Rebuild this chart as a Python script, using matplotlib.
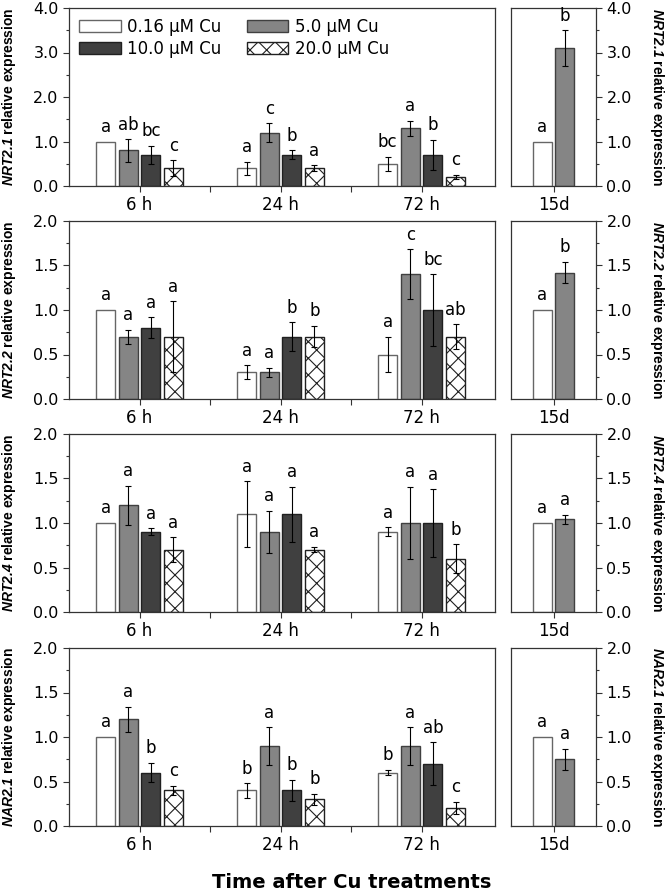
import matplotlib
matplotlib.use('Agg')
import matplotlib.pyplot as plt
import numpy as np
from matplotlib.ticker import MultipleLocator, FormatStrFormatter
from matplotlib.patches import Patch

plt.rcParams['font.family'] = ['DejaVu Sans']
plt.rcParams['mathtext.fontset'] = 'custom'
plt.rcParams['mathtext.rm'] = 'Liberation Sans'
plt.rcParams['mathtext.bf'] = 'Liberation Sans:bold'
plt.rcParams['mathtext.bfit'] = 'Liberation Sans:italic:bold'
plt.rcParams['hatch.linewidth'] = 0.8

# Data
times = ['6 h', '24 h', '72 h']
conc_labels = ['0.16 \u03bcM Cu', '5.0 \u03bcM Cu', '10.0 \u03bcM Cu', '20.0 \u03bcM Cu']
genes = ['NRT2.1', 'NRT2.2', 'NRT2.4', 'NAR2.1']
ymax = [4.0, 2.0, 2.0, 2.0]

# mean values per gene: rows = concentration, cols = time (6 h, 24 h, 72 h)
nrt21_mean = [[1.0, 0.4, 0.5], [0.8, 1.2, 1.3], [0.7, 0.7, 0.7], [0.4, 0.4, 0.2]]
nrt21_err = [[0.0, 0.15, 0.16], [0.25, 0.21, 0.17], [0.21, 0.10, 0.34], [0.18, 0.07, 0.05]]
nrt21_let = [['a', 'a', 'bc'], ['ab', 'c', 'a'], ['bc', 'b', 'b'], ['c', 'a', 'c']]

nrt22_mean = [[1.0, 0.3, 0.5], [0.7, 0.3, 1.4], [0.8, 0.7, 1.0], [0.7, 0.7, 0.7]]
nrt22_err = [[0.0, 0.08, 0.2], [0.08, 0.05, 0.28], [0.12, 0.16, 0.4], [0.4, 0.12, 0.14]]
nrt22_let = [['a', 'a', 'a'], ['a', 'a', 'c'], ['a', 'b', 'bc'], ['a', 'b', 'ab']]

nrt24_mean = [[1.0, 1.1, 0.9], [1.2, 0.9, 1.0], [0.9, 1.1, 1.0], [0.7, 0.7, 0.6]]
nrt24_err = [[0.0, 0.37, 0.05], [0.22, 0.24, 0.41], [0.04, 0.31, 0.38], [0.14, 0.03, 0.16]]
nrt24_let = [['a', 'a', 'a'], ['a', 'a', 'a'], ['a', 'a', 'a'], ['a', 'a', 'b']]

nar21_mean = [[1.0, 0.4, 0.6], [1.2, 0.9, 0.9], [0.6, 0.4, 0.7], [0.4, 0.3, 0.2]]
nar21_err = [[0.0, 0.08, 0.03], [0.14, 0.21, 0.21], [0.11, 0.12, 0.24], [0.05, 0.06, 0.07]]
nar21_let = [['a', 'b', 'b'], ['a', 'a', 'a'], ['b', 'b', 'ab'], ['c', 'b', 'c']]

# 15 d values (0.16 and 5.0 uM Cu)
d15_mean = [[1.0, 3.1], [1.0, 1.42], [1.0, 1.04], [1.0, 0.75]]
d15_err = [[0.0, 0.4], [0.0, 0.12], [0.0, 0.05], [0.0, 0.12]]
d15_let = [['a', 'b'], ['a', 'b'], ['a', 'a'], ['a', 'a']]

means = [nrt21_mean, nrt22_mean, nrt24_mean, nar21_mean]
errs = [nrt21_err, nrt22_err, nrt24_err, nar21_err]
lets = [nrt21_let, nrt22_let, nrt24_let, nar21_let]

# styles
face = ['white', '#858585', '#404040', 'white']
edge = ['#666666', '#404040', '#202020', '#202020']
hatch = [None, None, None, 'xx']
axcol = '#333333'

W, H = 666, 893
fig = plt.figure(figsize=(W / 100, H / 100), dpi=100)

tops = [8, 221, 434, 648]
ph = 178
main_l, main_w = 69, 426
side_l, side_w = 511, 85

x = np.arange(len(times))
step = 0.16
width = 0.135


def style_axis(ax, major):
    ax.yaxis.set_major_locator(MultipleLocator(major))
    ax.yaxis.set_minor_locator(MultipleLocator(major / 2))
    ax.yaxis.set_major_formatter(FormatStrFormatter('%.1f'))
    for s in ax.spines.values():
        s.set_color(axcol)
        s.set_linewidth(0.9)
    ax.tick_params(which='both', direction='out', colors=axcol, labelcolor='black',
                   labelsize=11.5, width=0.8)
    ax.tick_params(which='major', length=4)
    ax.tick_params(which='minor', length=2.5)
    ax.tick_params(axis='x', which='major', pad=3, labelsize=12)


def add_letters(ax, xs, tops_, letters):
    for xi, t, l in zip(xs, tops_, letters):
        ax.annotate(l, (xi, t), xytext=(0, 4), textcoords='offset points',
                    ha='center', va='bottom', fontsize=12)


for g in range(4):
    b = 1 - (tops[g] + ph) / H
    ax = fig.add_axes([main_l / W, b, main_w / W, ph / H])
    ax2 = fig.add_axes([side_l / W, b, side_w / W, ph / H])
    major = 1.0 if ymax[g] > 2 else 0.5

    for c in range(4):
        xs = x + (c - 1.5) * step
        m = np.array(means[g][c])
        e = np.array(errs[g][c])
        ax.bar(xs, m, width, color=face[c], edgecolor=edge[c], hatch=hatch[c],
               linewidth=1.0, zorder=2)
        mask = e > 0
        if mask.any():
            ax.errorbar(xs[mask], m[mask], yerr=e[mask], fmt='none', ecolor='black',
                        elinewidth=0.8, capsize=2, capthick=0.8, zorder=3)
        add_letters(ax, xs, m + e, lets[g][c])

    ax.set_xlim(-0.5, 2.52)
    ax.set_ylim(0, ymax[g])
    ax.set_xticks(x)
    ax.set_xticklabels(times)
    ax.set_xticks([0.5, 1.5], minor=True)
    style_axis(ax, major)
    ax.tick_params(axis='x', which='minor', length=4)

    # 15 d panel
    xs2 = np.array([-0.08, 0.08])
    m2 = np.array(d15_mean[g])
    e2 = np.array(d15_err[g])
    for c in range(2):
        ax2.bar(xs2[c], m2[c], width, color=face[c], edgecolor=edge[c],
                linewidth=1.0, zorder=2)
    mask = e2 > 0
    ax2.errorbar(xs2[mask], m2[mask], yerr=e2[mask], fmt='none', ecolor='black',
                 elinewidth=0.8, capsize=2, capthick=0.8, zorder=3)
    add_letters(ax2, xs2, m2 + e2, d15_let[g])
    ax2.set_xlim(-0.3, 0.3)
    ax2.set_ylim(0, ymax[g])
    ax2.set_xticks([0])
    ax2.set_xticklabels(['15d'])
    style_axis(ax2, major)
    ax2.yaxis.tick_right()

    # y labels on both sides
    label = r'$\mathbfit{' + genes[g] + r'}$ relative expression'
    yc = 1 - (tops[g] + ph / 2) / H
    fig.text(9 / W, yc, label, rotation=90, ha='center', va='center',
             fontsize=10, fontweight='bold', family='Liberation Sans')
    fig.text(657 / W, yc, label, rotation=270, ha='center', va='center',
             fontsize=10, fontweight='bold', family='Liberation Sans')

    if g == 0:
        handles = [Patch(facecolor=face[c], edgecolor=edge[c], hatch=hatch[c],
                         linewidth=1.0) for c in range(4)]
        order = [0, 2, 1, 3]
        ax.legend([handles[i] for i in order], [conc_labels[i] for i in order],
                  ncol=2, frameon=False, fontsize=12, loc='upper left',
                  bbox_to_anchor=(0.0, 1.0), handlelength=2.5, handleheight=0.7,
                  handletextpad=0.4, columnspacing=1.5, labelspacing=0.25,
                  borderaxespad=0.2)

fig.text(352 / W, 1 - 883 / H, 'Time after Cu treatments', ha='center', va='center',
         fontsize=14, fontweight='bold')

fig.savefig('out.png', dpi=100)
